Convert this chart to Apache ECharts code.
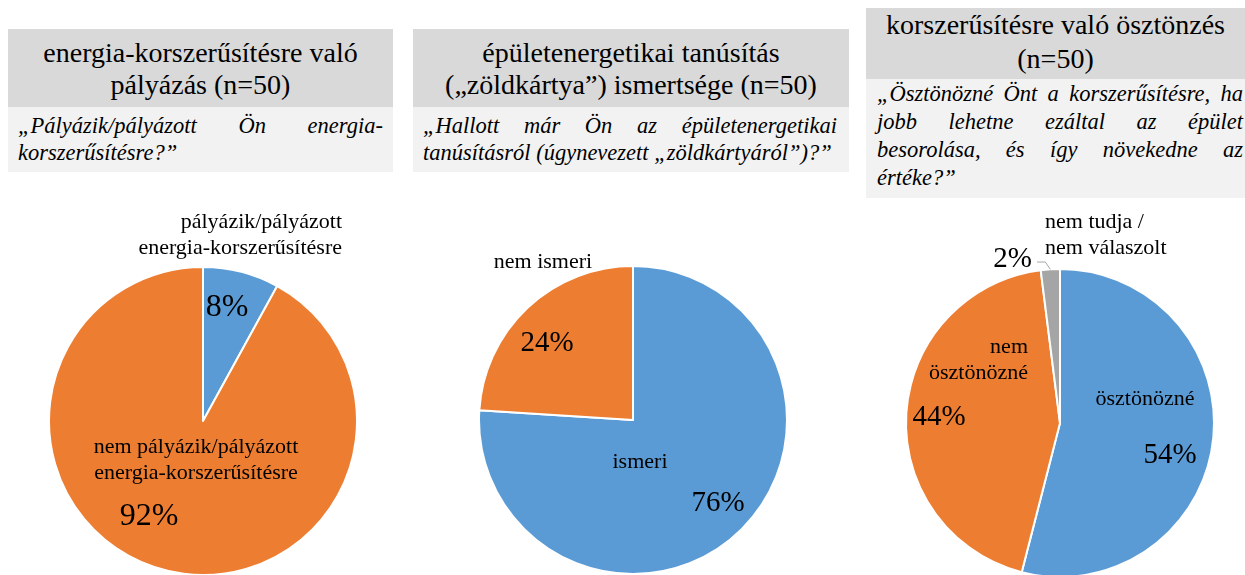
<!DOCTYPE html>
<html>
<head>
<meta charset="utf-8">
<script src="https://cdn.jsdelivr.net/npm/echarts@6/dist/echarts.min.js"></script>
<style>
  html, body { margin: 0; padding: 0; background: #fff; }
  body { width: 1245px; height: 575px; position: relative; overflow: hidden; font-family: 'Liberation Serif', 'Times New Roman', serif; color: #000; }
  #chart { position: absolute; left: 0; top: 0; width: 1245px; height: 575px; }
  .head { position: absolute; background: #D9D9D9; text-align: center; font-size: 28px; line-height: 32px; box-sizing: border-box; }
  .quest { position: absolute; background: #F2F2F2; font-style: italic; font-size: 22.5px; line-height: 27px; box-sizing: border-box; }
  .quest .j { text-align: justify; text-align-last: justify; white-space: nowrap; }
</style>
</head>
<body>
<div id="chart"></div>

<div class="head" style="left:8px;top:29px;width:385px;height:78px;padding-top:8px">energia-korszerűsítésre való<br>pályázás (n=50)</div>
<div class="quest" style="left:8px;top:107px;width:385px;height:65px;padding:5px 10px 0 10px">
  <div class="j">„Pályázik/pályázott Ön energia-</div>
  <div>korszerűsítésre?”</div>
</div>

<div class="head" style="left:413px;top:29px;width:436px;height:78px;padding-top:8px">épületenergetikai tanúsítás<br>(„zöldkártya”) ismertsége (n=50)</div>
<div class="quest" style="left:413px;top:107px;width:436px;height:65px;padding:5px 12px 0 10px">
  <div class="j">„Hallott már Ön az épületenergetikai</div>
  <div>tanúsításról (úgynevezett „zöldkártyáról”)?”</div>
</div>

<div class="head" style="left:866px;top:8px;width:379px;height:71px;line-height:34px;padding-top:0">korszerűsítésre való ösztönzés<br>(n=50)</div>
<div class="quest" style="left:866px;top:79px;width:379px;height:119px;line-height:28px;padding:1px 2px 0 11px">
  <div class="j">„Ösztönözné Önt a korszerűsítésre, ha</div>
  <div class="j">jobb lehetne ezáltal az épület</div>
  <div class="j">besorolása, és így növekedne az</div>
  <div>értéke?”</div>
</div>

<script>
// survey shares, percent of respondents (n=50)
const pie1Names = ['pályázik/pályázott\nenergia-korszerűsítésre', 'nem pályázik/pályázott\nenergia-korszerűsítésre'];
const pie1Values = [8, 92];

const pie2Names = ['ismeri', 'nem ismeri'];
const pie2Values = [76, 24];

const pie3Names = ['ösztönözné', 'nem\nösztönözné', 'nem tudja /\nnem válaszolt'];
const pie3Values = [54, 44, 2];

const BLUE = '#5B9BD5';
const ORANGE = '#ED7D31';
const GRAY = '#A5A5A5';
const FONT = "'Liberation Serif', 'Times New Roman', serif";
const R = 154;

// label anchors per slice: [x, y, align]
const pies = [
  {
    names: pie1Names, values: pie1Values, colors: [BLUE, ORANGE], center: [203, 421], pctSize: 32,
    namePos: [[342, 235, 'right'], [196, 460, 'center']],
    pctPos: [[227, 308, 'center'], [149, 517, 'center']]
  },
  {
    names: pie2Names, values: pie2Values, colors: [BLUE, ORANGE], center: [633, 420], pctSize: 29,
    namePos: [[640, 462, 'center'], [543, 262, 'center']],
    pctPos: [[718, 503, 'center'], [547, 343, 'center']]
  },
  {
    names: pie3Names, values: pie3Values, colors: [BLUE, ORANGE, GRAY], center: [1060, 423], pctSize: 29,
    namePos: [[1145, 399, 'center'], [1028, 360, 'right'], [1045, 235, 'left']],
    pctPos: [[1170, 455, 'center'], [939, 417, 'center'], [1032, 259, 'right']],
    leader: 2
  }
];

const series = [];
pies.forEach((p) => {
  const data = p.values.map((v, i) => ({
    value: v,
    name: p.names[i],
    itemStyle: { color: p.colors[i] }
  }));

  // slices + category labels
  series.push({
    type: 'pie',
    center: p.center,
    radius: R,
    startAngle: 90,
    clockwise: true,
    animation: false,
    silent: true,
    itemStyle: { borderColor: '#fff', borderWidth: 2 },
    label: {
      show: true,
      position: 'inside',
      formatter: '{b}',
      color: '#000',
      fontFamily: FONT,
      fontSize: 22,
      lineHeight: 26
    },
    labelLine: { show: false },
    labelLayout: (params) => {
      const pos = p.namePos[params.dataIndex];
      return { x: pos[0], y: pos[1], align: pos[2], verticalAlign: 'middle' };
    },
    data: data
  });

  // percentage labels on a transparent copy
  series.push({
    type: 'pie',
    center: p.center,
    radius: R,
    startAngle: 90,
    clockwise: true,
    animation: false,
    silent: true,
    z: 3,
    itemStyle: { color: 'transparent', borderWidth: 0 },
    label: {
      show: true,
      position: 'inside',
      formatter: '{d}%',
      color: '#000',
      fontFamily: FONT,
      fontSize: p.pctSize
    },
    labelLine: { show: false },
    labelLayout: (params) => {
      const pos = p.pctPos[params.dataIndex];
      const out = { x: pos[0], y: pos[1], align: pos[2], verticalAlign: 'middle' };
      if (params.dataIndex === p.leader && params.labelLinePoints) {
        const start = params.labelLinePoints[0];
        const ly = pos[1] + 3;
        out.labelLinePoints = [start, [start[0] - 5, ly], [pos[0] + 5, ly]];
      }
      return out;
    },
    data: p.values.map((v, i) => {
      const item = { value: v, name: p.names[i] };
      if (i === p.leader) {
        item.label = { position: 'outside' };
        item.labelLine = { show: true, length: 6, length2: 6, lineStyle: { color: '#A6A6A6', width: 1 } };
      }
      return item;
    })
  });
});

const chart = echarts.init(document.getElementById('chart'), null, { renderer: 'canvas' });
chart.setOption({
  backgroundColor: 'transparent',
  series: series
});
</script>
</body>
</html>
